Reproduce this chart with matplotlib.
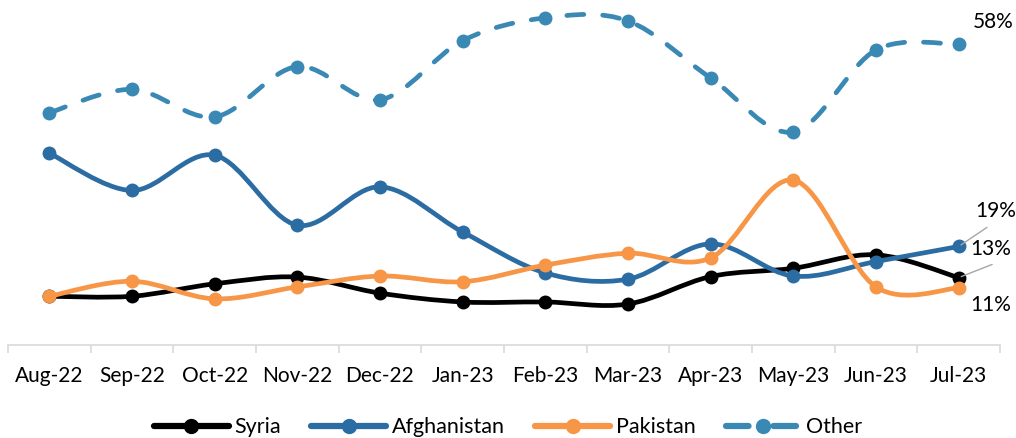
import matplotlib
matplotlib.use("Agg")
import matplotlib.pyplot as plt
from matplotlib.path import Path
from matplotlib.patches import PathPatch
from matplotlib.lines import Line2D

plt.rcParams["font.family"] = ["Lato", "DejaVu Sans"]

months = ["Aug-22", "Sep-22", "Oct-22", "Nov-22", "Dec-22", "Jan-23",
          "Feb-23", "Mar-23", "Apr-23", "May-23", "Jun-23", "Jul-23"]

syria = [9.4, 9.4, 11.8, 13.1, 10.0, 8.3, 8.3, 7.9, 13.2, 14.8, 17.4, 13.0]
afghanistan = [37.0, 29.8, 36.6, 23.1, 30.5, 21.8, 13.9, 12.7, 19.5, 13.3, 16.1, 19.0]
pakistan = [9.4, 12.3, 8.9, 11.2, 13.3, 12.2, 15.4, 17.7, 16.8, 31.8, 11.2, 11.0]
other = [44.8, 49.3, 44.0, 53.7, 47.3, 58.7, 63.1, 62.5, 51.5, 41.1, 56.9, 58.0]

series = [
    ("Syria", syria, "#000000", "-"),
    ("Afghanistan", afghanistan, "#2B6CA3", "-"),
    ("Pakistan", pakistan, "#F79646", "-"),
    ("Other", other, "#3A89B5", (0, (3.6, 4))),
]


def smooth_path(xs, ys):
    """Excel-style smoothed line as cubic bezier segments."""
    pts = list(zip(xs, ys))
    n = len(pts)
    verts = [pts[0]]
    codes = [Path.MOVETO]
    for i in range(n - 1):
        p0 = pts[i - 1] if i > 0 else pts[i]
        p1 = pts[i]
        p2 = pts[i + 1]
        p3 = pts[i + 2] if i + 2 < n else pts[i + 1]
        c1 = (p1[0] + (p2[0] - p0[0]) / 6, p1[1] + (p2[1] - p0[1]) / 6)
        c2 = (p2[0] - (p3[0] - p1[0]) / 6, p2[1] - (p3[1] - p1[1]) / 6)
        verts += [c1, c2, p2]
        codes += [Path.CURVE4] * 3
    return Path(verts, codes)


fig = plt.figure(figsize=(10.16, 4.38), dpi=100)
ax = fig.add_axes([8 / 1016, 93 / 438, 992 / 1016, 342.2 / 438])

x = list(range(len(months)))
handles = []
for k, (name, vals, color, ls) in enumerate(series):
    patch = PathPatch(smooth_path(x, vals), fill=False, edgecolor=color,
                      lw=3.4, linestyle=ls, capstyle="round", joinstyle="round",
                      zorder=2 + k)
    ax.add_patch(patch)
    ax.plot(x, vals, "o", color=color, markersize=9, zorder=2 + k)
    handles.append(Line2D([], [], color=color, lw=4.5, linestyle=ls,
                          marker="o", markersize=10, dash_capstyle="round",
                          solid_capstyle="round"))

ax.set_xlim(-0.5, 11.5)
ax.set_ylim(0, 66)
ax.set_yticks([])
ax.set_xticks(x)
ax.set_xticklabels(months, fontsize=15)
ax.set_xticks([i - 0.5 for i in range(len(months) + 1)], minor=True)
ax.tick_params(axis="x", which="major", length=0, pad=15)
ax.tick_params(axis="x", which="minor", length=6, color="#D9D9D9", width=1.2)
for side in ["top", "right", "left"]:
    ax.spines[side].set_visible(False)
ax.spines["bottom"].set_color("#D9D9D9")
ax.spines["bottom"].set_linewidth(1.2)

px = 72 / 100
last = len(months) - 1
ax.annotate("58%", (last, other[-1]), xytext=(35 * px, 22 * px),
            textcoords="offset points", ha="center", va="center",
            fontsize=15, annotation_clip=False)
ax.annotate("19%", (last, afghanistan[-1]), xytext=(37 * px, 35 * px),
            textcoords="offset points", ha="center", va="center",
            fontsize=15, annotation_clip=False,
            arrowprops=dict(arrowstyle="-", color="#A6A6A6", lw=1,
                            relpos=(0.5, 0), shrinkA=4, shrinkB=2))
ax.annotate("13%", (last, syria[-1]), xytext=(32 * px, 29 * px),
            textcoords="offset points", ha="center", va="center",
            fontsize=15, annotation_clip=False,
            arrowprops=dict(arrowstyle="-", color="#A6A6A6", lw=1,
                            relpos=(0.9, 0), shrinkA=6, shrinkB=2))
ax.annotate("11%", (last, pakistan[-1]), xytext=(32 * px, -17 * px),
            textcoords="offset points", ha="center", va="center",
            fontsize=15, annotation_clip=False)

fig.legend(handles, [s[0] for s in series], loc="center", ncol=4,
           bbox_to_anchor=(0.5, 0.025), frameon=False, fontsize=15.5,
           handlelength=3.5, handletextpad=0.25, columnspacing=1.4)

fig.savefig("out.png", dpi=100)
